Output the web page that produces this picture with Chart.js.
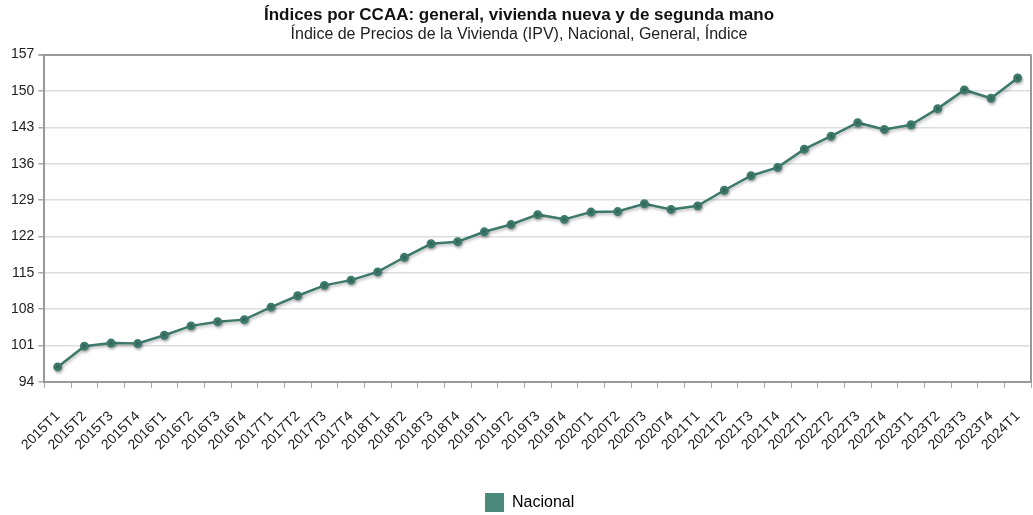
<!DOCTYPE html>
<html lang="es">
<head>
  <meta charset="UTF-8" />
  <title>Índices por CCAA</title>
  <script src="https://cdn.jsdelivr.net/npm/chart.js"></script>
  <style>
    html, body { margin: 0; padding: 0; background: #fff; }
    #wrap { width: 1033px; height: 515px; }
  </style>
</head>
<body>
  <div id="wrap"><canvas id="ipvChart" width="1033" height="515"></canvas></div>

  <script>
    // data
    const periods = [
      '2015T1', '2015T2', '2015T3', '2015T4',
      '2016T1', '2016T2', '2016T3', '2016T4',
      '2017T1', '2017T2', '2017T3', '2017T4',
      '2018T1', '2018T2', '2018T3', '2018T4',
      '2019T1', '2019T2', '2019T3', '2019T4',
      '2020T1', '2020T2', '2020T3', '2020T4',
      '2021T1', '2021T2', '2021T3', '2021T4',
      '2022T1', '2022T2', '2022T3', '2022T4',
      '2023T1', '2023T2', '2023T3', '2023T4',
      '2024T1'
    ];
    const nacional = [
      96.9, 100.9, 101.5, 101.4,
      103.0, 104.8, 105.6, 106.0,
      108.4, 110.6, 112.6, 113.6,
      115.2, 118.0, 120.6, 121.0,
      122.9, 124.3, 126.2, 125.3,
      126.7, 126.8, 128.3, 127.2,
      127.9, 130.9, 133.7, 135.3,
      138.8, 141.3, 143.9, 142.6,
      143.5, 146.6, 150.2, 148.6,
      152.5
    ];
    const yTicks = [94, 101, 108, 115, 122, 129, 136, 143, 150, 157];

    const lineColor = '#3d7a6c';
    const legendColor = '#4b8a7b';
    const font = '"Liberation Sans", Arial, sans-serif';

    // soft shadow under the series line, like the original
    const lineShadow = {
      id: 'lineShadow',
      beforeDatasetDraw(chart) {
        const ctx = chart.ctx;
        ctx.save();
        ctx.shadowColor = 'rgba(0,0,0,0.25)';
        ctx.shadowBlur = 3;
        ctx.shadowOffsetX = 1;
        ctx.shadowOffsetY = 2;
      },
      afterDatasetDraw(chart) {
        chart.ctx.restore();
      }
    };

    // right-hand frame line of the plot area
    const rightFrame = {
      id: 'rightFrame',
      afterDraw(chart) {
        const { ctx, chartArea } = chart;
        ctx.save();
        ctx.strokeStyle = '#999';
        ctx.lineWidth = 2;
        ctx.beginPath();
        ctx.moveTo(chartArea.right, chartArea.top);
        ctx.lineTo(chartArea.right, chartArea.bottom);
        ctx.stroke();
        ctx.restore();
      }
    };

    // the original legend sits a little left of the plot centre
    const legendNudge = {
      id: 'legendNudge',
      afterLayout(chart) {
        if (chart.legend) {
          chart.legend.left -= 8;
          chart.legend.right -= 8;
        }
      }
    };

    const ctx = document.getElementById('ipvChart').getContext('2d');
    new Chart(ctx, {
      type: 'line',
      data: {
        labels: periods,
        datasets: [{
          label: 'Nacional',
          data: nacional,
          borderColor: lineColor,
          backgroundColor: legendColor,
          borderWidth: 2.5,
          pointRadius: 3.2,
          pointBackgroundColor: lineColor,
          pointBorderColor: lineColor,
          tension: 0
        }]
      },
      plugins: [lineShadow, rightFrame, legendNudge],
      options: {
        responsive: false,
        animation: false,
        layout: { autoPadding: false, padding: { left: 7, right: 2, top: 4, bottom: -7 } },
        plugins: {
          title: {
            display: true,
            text: 'Índices por CCAA: general, vivienda nueva y de segunda mano',
            color: '#111',
            font: { family: font, size: 17, weight: 'bold' },
            padding: { top: 1, bottom: 0 }
          },
          subtitle: {
            display: true,
            text: 'Índice de Precios de la Vivienda (IPV), Nacional, General, Índice',
            color: '#222',
            font: { family: font, size: 16 },
            padding: { top: 0, bottom: 10 }
          },
          legend: {
            position: 'bottom',
            fullSize: false,
            labels: {
              boxWidth: 19,
              boxHeight: 19,
              color: '#222',
              padding: 4,
              font: { family: font, size: 16 },
              generateLabels: chart => [{
                text: 'Nacional',
                fillStyle: legendColor,
                strokeStyle: legendColor,
                lineWidth: 0,
                datasetIndex: 0
              }]
            }
          },
          tooltip: { enabled: false }
        },
        scales: {
          x: {
            offset: true,
            grid: {
              offset: true,
              drawOnChartArea: false,
              drawTicks: true,
              tickLength: 6,
              color: '#aaa'
            },
            border: { color: '#999', width: 2 },
            ticks: {
              autoSkip: false,
              maxRotation: 45,
              minRotation: 45,
              color: '#222',
              padding: 20,
              font: { family: font, size: 14 }
            },
            afterFit: scale => {
              scale.height = 107;
              scale.paddingRight = 0;
              scale.paddingLeft = 0;
            }
          },
          y: {
            min: 94,
            max: 157,
            afterBuildTicks: scale => {
              scale.ticks = yTicks.map(v => ({ value: v }));
            },
            grid: {
              color: ctx => ctx.tick && ctx.tick.value === 157 ? '#999' : '#ddd',
              lineWidth: ctx => ctx.tick && ctx.tick.value === 157 ? 2 : 1.5,
              tickLength: 6,
              tickColor: '#aaa'
            },
            border: { color: '#999', width: 2 },
            ticks: {
              color: '#222',
              padding: 4,
              font: { family: font, size: 14 }
            }
          }
        }
      }
    });
  </script>
</body>
</html>
